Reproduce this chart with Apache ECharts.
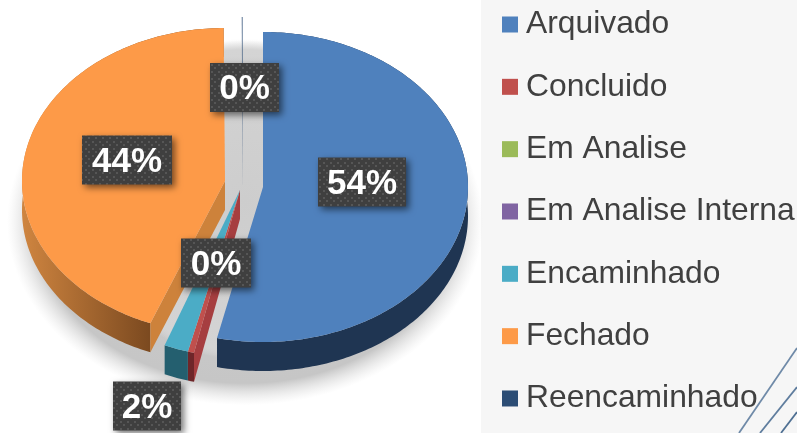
<!DOCTYPE html>
<html><head><meta charset="utf-8">
<style>html,body{margin:0;padding:0;background:#fff}#c{width:797px;height:433px}</style>
<script src="https://cdn.jsdelivr.net/npm/echarts@6/dist/echarts.min.js"></script>
</head><body><div id="c"></div>
<script>
var categories = ['Arquivado','Concluido','Em Analise','Em Analise Interna','Encaminhado','Fechado','Reencaminhado'];
var shares = [53.6, 0.49, 0, 0, 1.9, 43.9, 0.11];
var colors = ['#4f81bd','#c0504d','#9bbb59','#8064a2','#4bacc6','#fd9a48','#2c4d75'];

// Projection of each exploded slice (ellipse, since the pie is tilted)
var depth = 29;
var geometry = {
  'Arquivado':     {ax:263,ay:187,rx:205,ry:155,side:'#1f3552',label:[99,-5],box:88},
  'Concluido':     {ax:240,ay:190,rx:205,ry:167,side:'#6e2629',wall:'#a63e40',label:[-24,73],box:70},
  'Encaminhado':   {ax:240,ay:190,rx:205,ry:167,side:'#245f6f',label:[-93,216],box:68},
  'Fechado':       {ax:225,ay:181,rx:203,ry:153,wall:'#cd823b',
                    side:{type:'linear',x:0,y:0,x2:1,y2:0,colorStops:[{offset:0,color:'#cf8540'},{offset:0.63,color:'#7c4a20'},{offset:1,color:'#7c4a20'}]},label:[-98,-21],box:90},
  'Reencaminhado': {ax:243,ay:187,rx:205,ry:170,opacity:0.55,label:[1.5,-99.5],box:69}
};
var total = shares.reduce(function(a,b){return a+b;},0);

function dotPattern(){
  var c=document.createElement('canvas');c.width=7;c.height=7;
  var g=c.getContext('2d');g.fillStyle='#3f3f3f';g.fillRect(0,0,7,7);
  g.fillStyle='#565656';g.fillRect(1,1,2,2);g.fillRect(4,4,2,2);
  return c;
}
var pattern = dotPattern();

function arc(g,a0,a1,dy){
  var pts=[],n=Math.max(2,Math.ceil((a1-a0)/1));
  for(var i=0;i<=n;i++){
    var t=(a0+(a1-a0)*i/n)*Math.PI/180;
    pts.push([g.ax+g.rx*Math.sin(t), g.ay-g.ry*Math.cos(t)+dy]);
  }
  return pts;
}

function renderSlice(index){
  return function(params,api){
    var v=api.value(0), name=categories[index], g=geometry[name];
    if(!v||!g) return null;
    var start=0;
    for(var i=0;i<index;i++) start+=shares[i];
    var a0=start/total*360, a1=(start+v)/total*360;
    var top=arc(g,a0,a1,0), low=arc(g,a0,a1,depth).reverse();
    var kids=[];
    if(g.side){
      kids.push({type:'polygon',z2:1,shape:{points:top.concat(low)},style:{fill:g.side}});
    }
    if(g.wall){
      var e=top[0];
      kids.push({type:'polygon',z2:2,shape:{points:[[g.ax,g.ay],e,[e[0],e[1]+depth],[g.ax,g.ay+depth]]},style:{fill:g.wall}});
    }
    kids.push({type:'polygon',z2:3,shape:{points:[[g.ax,g.ay]].concat(top)},style:{fill:colors[index],opacity:g.opacity==null?1:g.opacity}});
    var cx=g.ax+g.label[0], cy=g.ay+g.label[1], h=49;
    kids.push({type:'rect',z2:10,shape:{x:cx-g.box/2,y:cy-h/2,width:g.box,height:h},
      style:{fill:{image:pattern,repeat:'repeat'},shadowBlur:7,shadowColor:'rgba(0,0,0,0.55)',shadowOffsetX:3,shadowOffsetY:3}});
    kids.push({type:'text',z2:11,style:{x:cx,y:cy+2,text:Math.round(v/total*100)+'%',fill:'#fff',
      font:'bold 35px "Liberation Sans"',align:'center',verticalAlign:'middle'}});
    return {type:'group',children:kids};
  };
}

var chart=echarts.init(document.getElementById('c'),null,{renderer:'canvas'});
chart.setOption({
  animation:false,
  backgroundColor:'#fff',
  graphic:[
    {type:'rect',z:-5,shape:{x:481,y:0,width:316,height:433},style:{fill:'#f6f6f6'}},
    {type:'circle',z:-4,x:245,y:222,scaleY:0.77,shape:{cx:0,cy:0,r:238},
      style:{fill:{type:'radial',x:0.5,y:0.5,r:0.5,colorStops:[{offset:0,color:'#cdcdcd'},{offset:0.88,color:'#c6c6c6'},{offset:1,color:'rgba(225,225,225,0)'}]}}},
    {type:'circle',z:-4,x:245,y:200,shape:{cx:0,cy:0,r:160},
      style:{fill:{type:'radial',x:0.5,y:0.5,r:0.5,colorStops:[{offset:0,color:'#cdcdcd'},{offset:0.94,color:'#d4d4d4'},{offset:1,color:'rgba(225,225,225,0)'}]}}},
    {type:'line',z:-3,shape:{x1:797,y1:348,x2:739,y2:433},style:{stroke:'#6f8aa8',lineWidth:1.8}},
    {type:'line',z:-3,shape:{x1:797,y1:387,x2:760,y2:433},style:{stroke:'#5f7d9e',lineWidth:1.8}},
    {type:'line',z:-3,shape:{x1:797,y1:412,x2:781,y2:433},style:{stroke:'#4f7093',lineWidth:1.8}}
  ],
  legend:{
    orient:'vertical',left:502,top:8.5,padding:0,icon:'rect',itemWidth:16,itemHeight:16,itemGap:30.33,selectedMode:false,
    data:categories,
    textStyle:{color:'#404040',fontFamily:'Liberation Sans',fontSize:31.8,padding:[0,0,0,3]}
  },
  series:categories.map(function(name,i){
    return {type:'custom',name:name,coordinateSystem:'none',silent:true,
      itemStyle:{color:colors[i]},data:[[shares[i]]],renderItem:renderSlice(i)};
  })
});
</script></body></html>
